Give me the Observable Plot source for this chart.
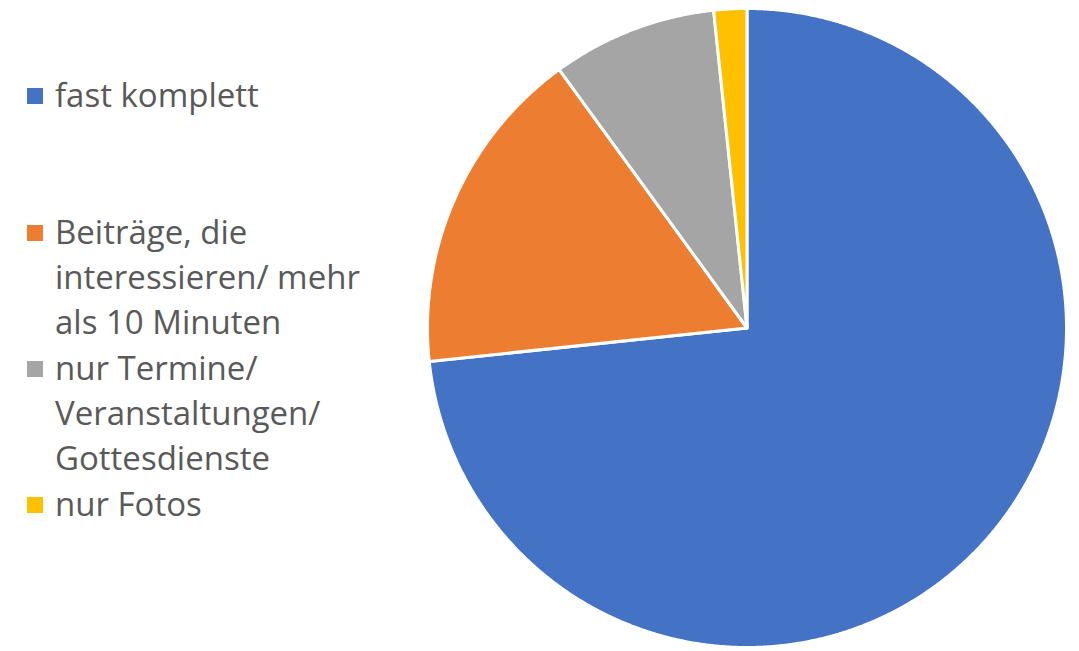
<!DOCTYPE html>
<html>
<head>
<meta charset="utf-8">
<script src="https://cdn.jsdelivr.net/npm/d3@7"></script>
<script src="https://cdn.jsdelivr.net/npm/@observablehq/plot@0.6"></script>
<style>
  html, body { margin: 0; padding: 0; background: #fff; }
  #wrap { position: relative; width: 1079px; height: 651px; overflow: hidden; }
  #chart { position: absolute; left: 0; top: 0; }
  #legend { position: absolute; left: 0; top: 0; font-family: "Open Sans", sans-serif; font-size: 33px; color: #595959; }
  .entry { position: absolute; left: 0; }
  .sw { position: absolute; left: 27px; top: 16px; width: 16px; height: 16px; }
  .txt { position: absolute; left: 55px; top: 0; line-height: 45px; white-space: nowrap; }
</style>
</head>
<body>
<div id="wrap">
  <div id="chart"></div>
  <div id="legend"></div>
</div>
<script>
// Data
const categories = ["fast komplett", "Beiträge, die interessieren/ mehr als 10 Minuten", "nur Termine/ Veranstaltungen/ Gottesdienste", "nur Fotos"];
const legendLines = [["fast komplett"], ["Beiträge, die", "interessieren/ mehr", "als 10 Minuten"], ["nur Termine/", "Veranstaltungen/", "Gottesdienste"], ["nur Fotos"]];
const values = [44, 10, 5, 1];
const colors = ["#4472C4", "#ED7D31", "#A5A5A5", "#FFC000"];

// Build slices with d3.pie (clockwise from 12 o'clock)
const pie = d3.pie().sort(null).value(d => d.value);
const arcs = pie(categories.map((c, i) => ({category: c, value: values[i]})));
const slices = arcs.map(a => {
  const ring = [[0, 0]];
  const n = Math.max(2, Math.ceil((a.endAngle - a.startAngle) / (Math.PI / 720)));
  for (let k = 0; k <= n; ++k) {
    const t = a.startAngle + (a.endAngle - a.startAngle) * k / n;
    ring.push([Math.sin(t), Math.cos(t)]);
  }
  ring.push([0, 0]);
  return {category: a.data.category, geometry: {type: "Polygon", coordinates: [ring]}};
});

const plot = Plot.plot({
  width: 1079,
  height: 651,
  marginLeft: 427,
  marginRight: 13,
  marginTop: 8,
  marginBottom: 4,
  projection: {type: "reflect-y", domain: {type: "MultiPoint", coordinates: [[-1, -1], [1, 1]]}},
  color: {domain: categories, range: colors},
  marks: [
    Plot.geo(slices, {geometry: "geometry", fill: "category", stroke: "white", strokeWidth: 3, strokeLinejoin: "round"})
  ]
});
document.getElementById("chart").appendChild(plot);

// Legend
const legend = document.getElementById("legend");
const tops = [72, 208.5, 345, 481];
categories.forEach((c, i) => {
  const e = document.createElement("div");
  e.className = "entry";
  e.style.top = tops[i] + "px";
  const sw = document.createElement("div");
  sw.className = "sw";
  sw.style.background = colors[i];
  const tx = document.createElement("div");
  tx.className = "txt";
  legendLines[i].forEach((l, j) => {
    if (j) tx.appendChild(document.createElement("br"));
    tx.appendChild(document.createTextNode(l));
  });
  e.appendChild(sw);
  e.appendChild(tx);
  legend.appendChild(e);
});
</script>
</body>
</html>
